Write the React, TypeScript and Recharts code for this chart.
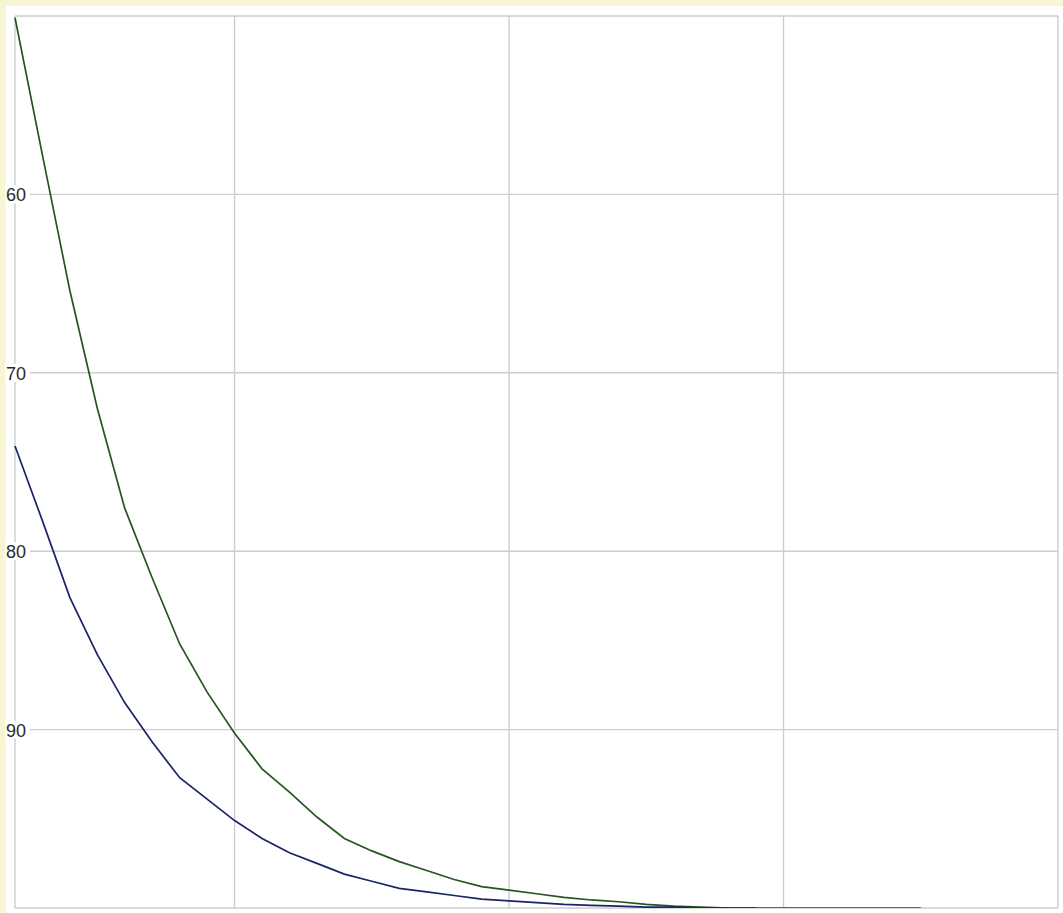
import React from "react";
import { LineChart, Line, XAxis, YAxis, CartesianGrid } from "recharts";

const xValues = [1, 1.5, 2, 2.5, 3, 3.5, 4, 4.5, 5, 5.5, 6, 6.5, 7, 7.5, 8, 8.5, 9, 9.5, 10, 10.5, 11, 11.5, 12, 12.5, 13, 13.5, 14, 14.5, 15, 15.5, 16, 16.5, 17, 17.5];
const greenValues = [50.1, 57.8, 65.4, 72.0, 77.6, 81.5, 85.2, 87.9, 90.2, 92.2, 93.5, 94.9, 96.1, 96.8, 97.4, 97.9, 98.4, 98.8, 99.0, 99.2, 99.4, 99.55, 99.65, 99.8, 99.9, 99.95, 100, 100, 100, 100, 100, 100, 100, 100];
const blueValues = [74.1, 78.3, 82.6, 85.8, 88.5, 90.7, 92.7, 93.9, 95.1, 96.1, 96.9, 97.5, 98.1, 98.5, 98.9, 99.1, 99.3, 99.5, 99.6, 99.7, 99.8, 99.85, 99.9, 99.95, 99.95, 100, 100, 100];
const yTicks = [50, 60, 70, 80, 90, 100];
const yLabelTicks = [60, 70, 80, 90];
const xTicks = [1, 5, 10, 15, 20];

const data = xValues.map((x, i) => ({
  x,
  green: greenValues[i],
  blue: i < blueValues.length ? blueValues[i] : undefined,
}));

const YTick = (props: any) => {
  const { y, payload } = props;
  if (!payload || !yLabelTicks.includes(payload.value)) return <g />;
  return (
    <g>
      <rect x={5} y={y - 9} width={25} height={18} fill="#ffffff" />
      <text
        x={6}
        y={y + 1}
        dominantBaseline="central"
        textAnchor="start"
        fontFamily="'Liberation Sans Narrow', 'Liberation Sans', Arial, sans-serif"
        fontSize={18}
        fill="#2a2a2a"
      >
        {payload.value}
      </text>
    </g>
  );
};

export default function App() {
  return (
    <div style={{ position: "absolute", left: 0, top: 0, width: 1063, height: 913, background: "#f6f6d3", overflow: "hidden" }}>
      <div style={{ position: "absolute", left: 6, top: 6, width: 1057, height: 907, background: "#ffffff" }} />
      <div style={{ position: "absolute", left: 0, top: 0 }}>
        <LineChart width={1063} height={913} data={data} margin={{ top: 16, right: 5, bottom: 5, left: 0 }}>
          <CartesianGrid stroke="#cdcdcd" strokeWidth={1.4} />
          <XAxis dataKey="x" type="number" domain={[1, 20]} ticks={xTicks} hide />
          <YAxis
            type="number"
            domain={[50, 100]}
            ticks={yTicks}
            reversed
            width={15}
            axisLine={false}
            tickLine={false}
            tick={YTick}
            interval={0}
            allowDataOverflow
          />
          <Line type="linear" dataKey="green" stroke="#25561f" strokeWidth={1.7} dot={false} isAnimationActive={false} />
          <Line type="linear" dataKey="blue" stroke="#1a2466" strokeWidth={1.7} dot={false} isAnimationActive={false} connectNulls={false} />
        </LineChart>
      </div>
    </div>
  );
}
